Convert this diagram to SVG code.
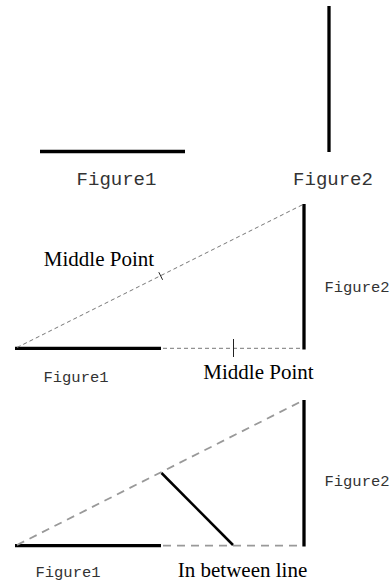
<svg xmlns="http://www.w3.org/2000/svg" width="392" height="584" viewBox="0 0 392 584">
<style>
.bg{fill:#fff}
.thick{stroke:#000;stroke-width:3.3;fill:none}
.solid{stroke:#000;stroke-width:2.5;fill:none}
.dash1{stroke:#777;stroke-width:1;stroke-dasharray:4 3;fill:none}
.dash2{stroke:#999;stroke-width:1.8;stroke-dasharray:8 6;fill:none}
.tick{stroke:#222;stroke-width:1;fill:none}
.mono{font-family:"Liberation Mono","Courier New",monospace;fill:#333;text-anchor:middle}
.big{font-size:19px}
.small{font-size:15.5px}
.serif{font-family:"Liberation Serif","Times New Roman",serif;font-size:21px;fill:#000;text-anchor:middle}
</style>
<rect class="bg" x="0" y="0" width="392" height="584"/>
<g id="top-figure1">
<line class="thick" x1="40" y1="151.5" x2="185" y2="151.5"/>
<text class="mono big" x="116.5" y="185">Figure1</text>
</g>
<g id="top-figure2">
<line class="thick" x1="329" y1="6" x2="329" y2="152"/>
<text class="mono big" x="333" y="185">Figure2</text>
</g>
<g id="mid-figure1">
<line class="thick" x1="15" y1="348.3" x2="161" y2="348.3"/>
<text class="mono small" x="76" y="381.5">Figure1</text>
</g>
<g id="mid-figure2">
<line class="thick" x1="304" y1="204" x2="304" y2="349.5"/>
<text class="mono small" x="357" y="291.5">Figure2</text>
</g>
<g id="mid-labels">
<text class="serif" x="99" y="266">Middle Point</text>
<text class="serif" x="258.5" y="379">Middle Point</text>
</g>
<g id="bot-figure1">
<line class="thick" x1="15" y1="545.7" x2="161" y2="545.7"/>
<text class="mono small" x="68" y="577">Figure1</text>
</g>
<g id="bot-figure2">
<line class="thick" x1="304" y1="400" x2="304" y2="546.5"/>
<text class="mono small" x="357" y="485.5">Figure2</text>
</g>
<g id="bot-label">
<text class="serif" x="242.5" y="577">In between line</text>
</g>
<g id="connectors">
<line class="dash1" x1="17" y1="347.5" x2="302" y2="205"/>
<line class="dash1" x1="163" y1="348.3" x2="303" y2="348.3"/>
<line class="tick" x1="158.8" y1="272.2" x2="162.6" y2="279.8"/>
<line class="tick" x1="233.5" y1="339" x2="233.5" y2="357"/>
<line class="dash2" x1="17" y1="545" x2="302" y2="401"/>
<line class="dash2" x1="163" y1="545.7" x2="303" y2="545.7"/>
<line class="solid" x1="161.5" y1="473" x2="233" y2="545"/>
</g>
</svg>
